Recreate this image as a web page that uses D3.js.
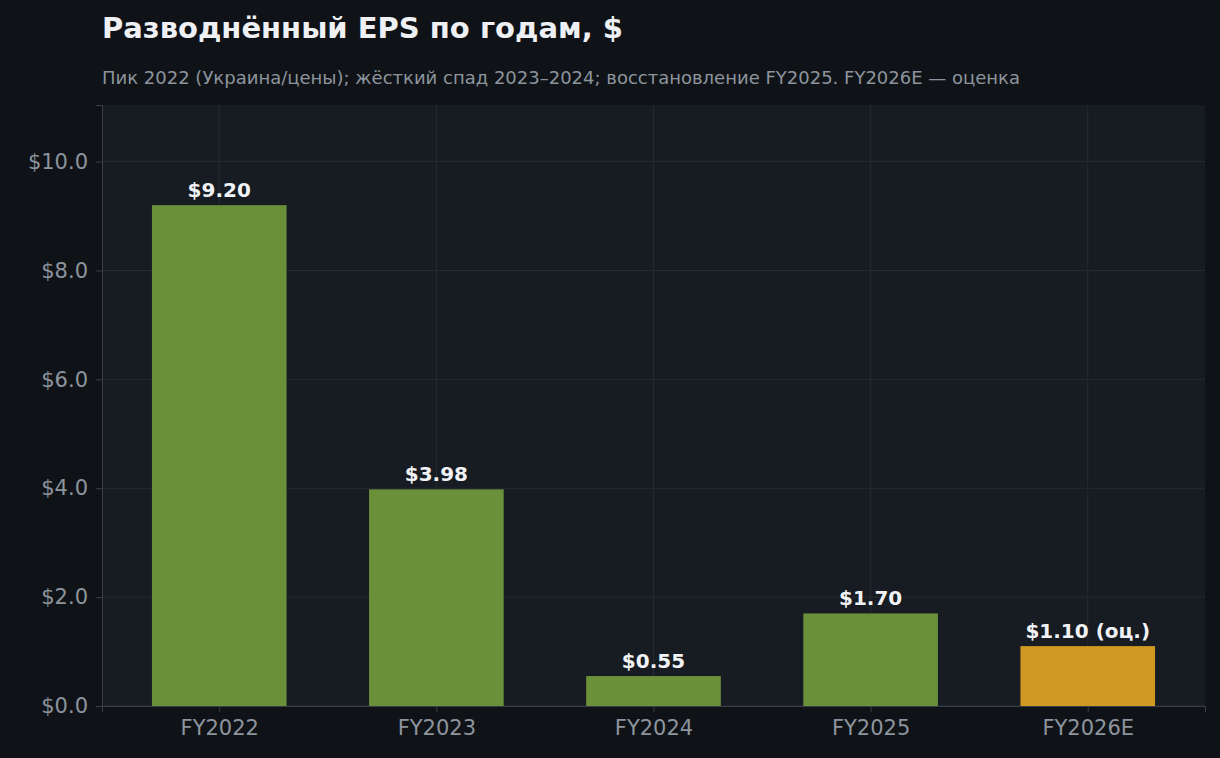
<!DOCTYPE html><html><head><meta charset="utf-8">
<script src="https://cdn.jsdelivr.net/npm/d3@7"></script>
<style>body{margin:0;background:#0f1317;}svg{display:block}</style></head><body>
<script>
const categories=["FY2022","FY2023","FY2024","FY2025","FY2026E"];
const values=[9.20,3.98,0.55,1.70,1.10];
const labels=["$9.20","$3.98","$0.55","$1.70","$1.10 (оц.)"];
const estimate=[false,false,false,false,true];
const yTicks=[0,2,4,6,8,10];
const W=1220,H=758,L=102,R=1205,T=105,B=706;
const svg=d3.select("body").append("svg").attr("width",W).attr("height",H).style("font-family","DejaVu Sans");
svg.append("rect").attr("width",W).attr("height",H).attr("fill","#0f1317");
svg.append("rect").attr("x",L).attr("y",T).attr("width",R-L).attr("height",B-T).attr("fill","#171b22");
const x=d3.scaleLinear().domain([-0.54,4.54]).range([L,R]);
const y=d3.scaleLinear().domain([0,11.04]).range([B,T]);
const bw=x(0.62)-x(0);
svg.append("g").selectAll("line").data(yTicks).join("line").attr("x1",L).attr("x2",R).attr("y1",d=>y(d)).attr("y2",d=>y(d)).attr("stroke","#262b33");
svg.append("g").selectAll("line").data(categories).join("line").attr("x1",(d,i)=>x(i)).attr("x2",(d,i)=>x(i)).attr("y1",T).attr("y2",B).attr("stroke","#262b33");
svg.append("g").selectAll("rect").data(values).join("rect").attr("x",(d,i)=>x(i)-bw/2).attr("width",bw).attr("y",d=>y(d)).attr("height",d=>B-y(d)).attr("fill",(d,i)=>estimate[i]?"#d09a22":"#6a9139");
svg.append("g").selectAll("text").data(values).join("text").attr("x",(d,i)=>x(i)).attr("y",d=>y(d)-8).attr("text-anchor","middle").attr("fill","#f0f2f5").attr("font-weight","bold").attr("font-size",20).text((d,i)=>labels[i]);
const ya=svg.append("g").attr("transform",`translate(${L},0)`).call(d3.axisLeft(y).tickValues(yTicks).tickFormat(d=>"$"+d.toFixed(1)).tickSize(6).tickPadding(8));
const xa=svg.append("g").attr("transform",`translate(0,${B})`).call(d3.axisBottom(x).tickValues([0,1,2,3,4]).tickFormat(i=>categories[i]).tickSize(6).tickPadding(8));
[ya,xa].forEach(a=>{a.selectAll("text").attr("fill","#8d949d").attr("font-size",21).attr("font-family","DejaVu Sans");a.selectAll("line").attr("stroke","#3a3f47");a.select(".domain").attr("stroke","#3a3f47");});
svg.append("text").attr("x",102).attr("y",38).attr("fill","#eef0f3").attr("font-weight","bold").attr("font-size",29).text("Разводнённый EPS по годам, $");
svg.append("text").attr("x",102).attr("y",84).attr("fill","#8d949d").attr("font-size",18).text("Пик 2022 (Украина/цены); жёсткий спад 2023–2024; восстановление FY2025. FY2026E — оценка");
</script></body></html>
